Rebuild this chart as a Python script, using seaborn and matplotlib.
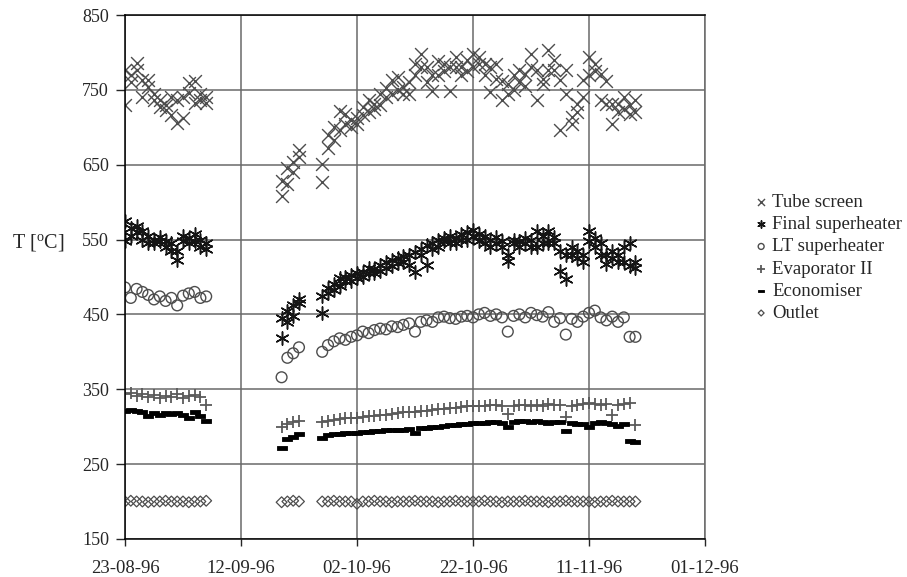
import pandas as pd
import seaborn as sns
import matplotlib.pyplot as plt
import matplotlib.dates as mdates
from matplotlib.path import Path

# measurement days, counted from 23-08-96
start = pd.Timestamp('1996-08-23')
days = [0, 1, 2, 3, 4, 5, 6, 7, 8, 9, 10, 11, 12, 13, 14,
        27, 28, 29, 30,
        34, 35, 36, 37, 38, 39, 40, 41, 42, 43, 44, 45, 46, 47, 48, 49, 50,
        51, 52, 53, 54, 55, 56, 57, 58, 59, 60, 61, 62, 63, 64, 65, 66, 67,
        68, 69, 70, 71, 72, 73, 74, 75, 76, 77, 78, 79, 80, 81, 82, 83, 84,
        85, 86, 87, 88]

# two readings per day for the hottest sections
tube_a = [777, 761, 786, 763, 754, 737, 727, 723, 717, 706, 712, 746, 733, 737, 733,
          608, 624, 640, 669,
          651, 672, 683, 697, 705, 710, 713, 716, 736, 731, 745, 740, 763, 767, 754, 745, 785,
          798, 780, 749, 789, 785, 749, 794, 780, 790, 798, 794, 785, 747, 785, 736, 758, 770,
          776, 771, 798, 776, 758, 803, 776, 696, 776, 705, 731, 740, 794, 785, 771, 762, 705,
          731, 740, 718, 736]
tube_b = [730, 770, 777, 741, 763, 745, 737, 730, 740, 737, 740, 759, 762, 745, 740,
          628, 646, 653, 660,
          627, 690, 700, 722, 718, 700, 705, 727, 720, 725, 730, 752, 745, 750, 745, 760, 770,
          780, 760, 770, 770, 775, 780, 780, 770, 775, 780, 785, 770, 780, 765, 762, 745, 750,
          760, 755, 780, 736, 765, 776, 790, 763, 745, 714, 720, 763, 770, 775, 736, 731, 731,
          720, 725, 730, 720]
final_a = [575, 565, 568, 562, 555, 550, 553, 548, 545, 535, 548, 552, 557, 550, 545,
           445, 455, 462, 470,
           475, 485, 490, 498, 495, 503, 505, 507, 505, 510, 516, 520, 522, 525, 528, 530, 534,
           538, 543, 545, 550, 548, 555, 552, 550, 560, 563, 558, 555, 550, 553, 548, 521, 545,
           548, 552, 550, 561, 555, 561, 545, 508, 497, 530, 525, 520, 561, 552, 545, 530, 535,
           530, 540, 545, 512]
final_b = [548, 555, 560, 550, 545, 545, 548, 540, 535, 522, 555, 545, 548, 540, 538,
           418, 440, 448, 465,
           452, 478, 482, 488, 500, 495, 498, 500, 512, 505, 508, 512, 515, 518, 520, 516, 507,
           530, 516, 538, 540, 552, 545, 545, 558, 550, 555, 548, 545, 540, 545, 540, 530, 550,
           540, 545, 540, 540, 545, 545, 553, 535, 530, 540, 535, 530, 548, 540, 530, 517, 525,
           520, 520, 515, 520]
lt_super = [486, 472, 484, 480, 476, 470, 474, 468, 472, 462, 475, 478, 480, 472, 474,
            366, 392, 398, 406,
            400, 409, 414, 418, 416, 420, 422, 427, 425, 429, 431, 430, 434, 433, 436, 438, 427,
            440, 442, 440, 446, 447, 445, 444, 447, 448, 446, 450, 452, 448, 450, 446, 427, 448,
            450, 446, 452, 449, 447, 453, 440, 445, 423, 444, 440, 447, 452, 455, 446, 442, 447,
            440, 446, 420, 420]
evap2 = [343, 345, 341, 344, 340, 342, 338, 341, 340, 343, 338, 341, 342, 340, 329,
         300, 303, 306, 307,
         306, 308, 309, 310, 311, 312, 312, 313, 314, 314, 315, 316, 317, 318, 319, 319, 320,
         321, 321, 322, 323, 324, 325, 325, 326, 327, 328, 328, 328, 329, 329, 328, 317, 328,
         329, 329, 328, 329, 328, 330, 329, 329, 313, 328, 329, 330, 331, 330, 329, 330, 316,
         329, 330, 331, 302]
econ = [321, 322, 321, 319, 314, 318, 316, 318, 317, 318, 316, 312, 319, 314, 307,
        272, 284, 286, 290,
        285, 289, 290, 290, 291, 292, 292, 293, 293, 294, 294, 295, 295, 296, 296, 297, 292,
        298, 298, 299, 300, 301, 302, 302, 303, 304, 305, 305, 305, 306, 306, 305, 299, 306,
        307, 307, 306, 307, 306, 305, 306, 306, 294, 305, 304, 303, 299, 305, 306, 305, 304,
        301, 304, 281, 280]
outlet = [200, 201, 200, 200, 199, 200, 200, 201, 200, 200, 200, 199, 200, 200, 201,
          199, 200, 201, 200,
          200, 200, 201, 200, 200, 200, 197, 200, 200, 201, 200, 200, 199, 200, 200, 200, 201,
          200, 200, 200, 199, 200, 200, 201, 200, 200, 200, 200, 201, 200, 200, 199, 200, 200,
          200, 201, 200, 200, 200, 199, 200, 200, 201, 200, 200, 200, 200, 199, 200, 200, 201,
          200, 200, 200, 200]

tick_dates = ['1996-08-23', '1996-09-12', '1996-10-02', '1996-10-22', '1996-11-11', '1996-12-01']

sns.set_style('white')
plt.rcParams['font.family'] = ['Liberation Serif', 'DejaVu Serif']
plt.rcParams['mathtext.fontset'] = 'custom'
plt.rcParams['mathtext.rm'] = 'Liberation Serif'

dates = start + pd.to_timedelta(days, unit='D')

fig = plt.figure(figsize=(9.07, 5.77), dpi=100)
ax = fig.add_axes([0.1378, 0.066, 0.6395, 0.908])

# flat black dash for the economiser
dash = Path([(-1, -0.32), (1, -0.32), (1, 0.32), (-1, 0.32), (-1, -0.32)],
            [Path.MOVETO, Path.LINETO, Path.LINETO, Path.LINETO, Path.CLOSEPOLY])

sns.scatterplot(x=list(dates) * 2, y=tube_a + tube_b, ax=ax, marker='x', color='#4d4d4d',
                s=85, linewidth=1.0, label='Tube screen')
sns.scatterplot(x=list(dates) * 2, y=final_a + final_b, ax=ax, marker=(6, 2, 0), color='#151515',
                s=90, linewidth=1.1, label='Final superheater')
sns.scatterplot(x=dates, y=lt_super, ax=ax, marker='o', color='#4d4d4d', facecolor='none',
                edgecolor='#4d4d4d', s=60, linewidth=1.0, label='LT superheater')
sns.scatterplot(x=dates, y=evap2, ax=ax, marker='+', color='#5a5a5a',
                s=85, linewidth=1.3, label='Evaporator II')
sns.scatterplot(x=dates, y=econ, ax=ax, marker=dash, color='black', edgecolor='black',
                s=55, linewidth=0.6, label='Economiser')
sns.scatterplot(x=dates, y=outlet, ax=ax, marker='D', color='#4d4d4d', facecolor='none',
                edgecolor='#4d4d4d', s=30, linewidth=0.9, label='Outlet')

ax.set_xlim(pd.Timestamp(tick_dates[0]), pd.Timestamp(tick_dates[-1]))
ax.set_xticks([pd.Timestamp(d) for d in tick_dates])
ax.xaxis.set_major_formatter(mdates.DateFormatter('%d-%m-%y'))
ax.set_ylim(150, 850)
ax.set_yticks(range(150, 851, 100))

ax.grid(True, color='#6a6a6a', linewidth=1.1)
ax.set_axisbelow(True)
for side in ['top', 'left', 'bottom']:
    ax.spines[side].set_color('black')
    ax.spines[side].set_linewidth(1.1)
ax.spines['right'].set_color('#6a6a6a')
ax.spines['right'].set_linewidth(1.1)

ax.tick_params(axis='y', direction='out', length=6.5, width=1, pad=5, labelsize=13, left=True)
ax.tick_params(axis='x', direction='out', length=5, width=1, pad=10, labelsize=13.5, bottom=True)

ax.set_xlabel('')
ax.set_ylabel('')
fig.text(0.013, 0.578, r'T [$^{\mathrm{o}}$C]', fontsize=14.5, va='center', ha='left')

ax.legend(loc='upper left', bbox_to_anchor=(0.833, 0.664), bbox_transform=fig.transFigure,
          frameon=False, fontsize=13.5, handlelength=0.6, handletextpad=0.3,
          labelspacing=0.27, markerscale=0.55, borderaxespad=0, borderpad=0)

fig.savefig('out.png', dpi=100)
